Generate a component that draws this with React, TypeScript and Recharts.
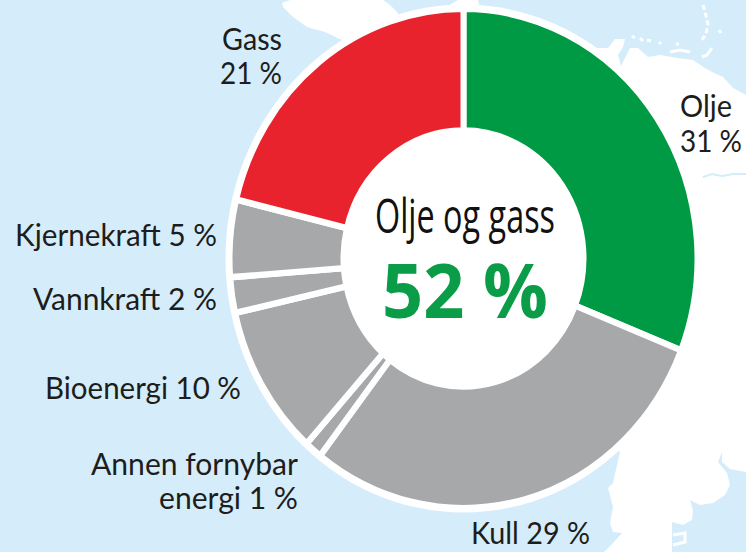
import { PieChart, Pie, Cell } from 'recharts';

const names = ['Olje', 'Kull', 'Annen fornybar energi', 'Bioenergi', 'Vannkraft', 'Kjernekraft', 'Gass'];
const shares = [31, 29.5, 1.2, 9.8, 2.3, 5, 21.2];
const sliceColors = ['#009a44', '#a7a8aa', '#a7a8aa', '#a7a8aa', '#a7a8aa', '#a7a8aa', '#e8232d'];
const labelLines = ['Gass', '21 %', 'Olje', '31 %', 'Kjernekraft 5 %', 'Vannkraft 2 %', 'Bioenergi 10 %', 'Annen fornybar', 'energi 1 %', 'Kull 29 %'];
const centerTitle = 'Olje og gass';
const centerValue = '52 %';

const pieData = names.map((name, i) => ({ name, value: shares[i] }));

// the source picture is stretched a little vertically
const stretch = 1.0667;
const W = 746;
const H = 552;

// x, baseline y and width of every label line, in page pixels
const labelSpots = [
    [222, 50, 60],
    [220, 84, 62],
    [680, 117, 52],
    [680, 152, 62],
    [15, 246, 202],
    [33, 310, 184],
    [45, 399, 196],
    [91, 475, 207],
    [159, 509, 139],
    [471, 544, 119],
];

function MapBackground() {
    return (
        <svg width={W} height={H} style={{ position: 'absolute', left: 0, top: 0 }}>
            <rect width={W} height={H} fill="#d5ecfa" />
            <path
                fill="#fff"
                d="M580,38 L597,48 L608,48 L615,39 L625,39 L623,47 L618,55 L621,66 L624,60 L630,48 L638,48 L648,57 L660,55 L677,58 L693,60 L705,68 L712,72 L723,77 L733,88 L746,95
                L746,472 L730,469 L722,462 L722,452 L718,462 L727,473 L730,485 L725,495 L713,503 L700,505 L690,500 L693,510 L692,520 L683,525 L672,522 L672,552
                L604,552 L613,543 L622,533 L613,532 L610,523 L613,507 L608,488 L613,483 L620,452 L560,400 Z"
            />
            <path fill="#fff" d="M282,3 L290,0 L383,0 L390,5 L398,13 L400,40 L342,40 L325,32 L307,27 L293,17 L283,7 Z" />
            <path fill="#fff" d="M448,6 L458,0 L478,0 L480,8 Z" />
            <path fill="none" stroke="#fff" strokeWidth={3} d="M673,535 L685,533 L685,542 L673,545" />
            <path fill="none" stroke="#fff" strokeWidth={3} strokeDasharray="5 3" d="M703,5 L705,12 L708,24 L706,34 L702,40" />
            <path fill="none" stroke="#fff" strokeWidth={3} d="M670,52 L680,50 L690,52 M702,57 L707,55 L712,48 M676,44 L679,44 M632,36 L635,38 M640,38 L643,41 M647,40 L651,41 M659,44 L661,42 M719,30 L721,33" />
            <path fill="none" stroke="#d5ecfa" strokeWidth={2} d="M703,177 L712,174 L722,176 L733,174 L746,174" />
            <ellipse cx={463.5} cy={258.5} rx={238} ry={254} fill="#fff" />
        </svg>
    );
}

export default function App() {
    const chartH = H / stretch;
    const chartY = (y: number) => y / stretch;
    return (
        <div style={{ position: 'fixed', left: 0, top: 0, width: W, height: H, overflow: 'hidden' }}>
            <MapBackground />
            <div style={{ position: 'absolute', left: 0, top: 0, transform: `scaleY(${stretch})`, transformOrigin: '0 0' }}>
                <PieChart width={W} height={chartH} margin={{ top: 0, right: 0, bottom: 0, left: 0 }}>
                    <Pie
                        data={pieData}
                        dataKey="value"
                        nameKey="name"
                        cx={463.5}
                        cy={chartY(258.5)}
                        innerRadius={120}
                        outerRadius={234}
                        startAngle={90}
                        endAngle={-270}
                        stroke="#fff"
                        strokeWidth={6}
                        isAnimationActive={false}
                    >
                        {pieData.map((d, i) => (
                            <Cell key={d.name} fill={sliceColors[i]} />
                        ))}
                    </Pie>
                    {labelLines.map((line, i) => (
                        <text
                            key={line}
                            x={labelSpots[i][0]}
                            y={chartY(labelSpots[i][1])}
                            textLength={labelSpots[i][2]}
                            lengthAdjust="spacingAndGlyphs"
                            fontFamily="Lato"
                            fontSize={29}
                            fill="#1d1d1b"
                        >
                            {line}
                        </text>
                    ))}
                    <text x={375} y={chartY(233)} textLength={180} lengthAdjust="spacingAndGlyphs" fontFamily="Open Sans" fontSize={44} fill="#111">
                        {centerTitle}
                    </text>
                    <text x={382} y={chartY(318)} textLength={166} lengthAdjust="spacingAndGlyphs" fontFamily="Open Sans" fontWeight={700} fontSize={70} fill="#0b9c47">
                        {centerValue}
                    </text>
                </PieChart>
            </div>
        </div>
    );
}
